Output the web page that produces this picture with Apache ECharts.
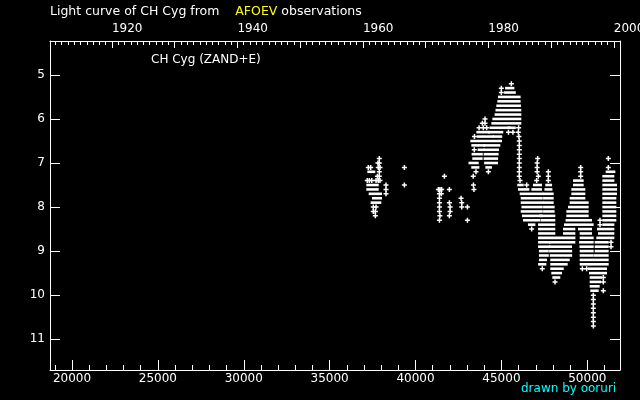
<!DOCTYPE html>
<html><head><meta charset="utf-8">
<script src="https://cdn.jsdelivr.net/npm/echarts@6/dist/echarts.min.js"></script>
<style>html,body{margin:0;padding:0;background:#000}#c{width:640px;height:400px}</style>
</head><body><div id="c"></div>
<script>
// ---- data: JD-2400000 and visual magnitude ----
// single observations [jd, mag]
const points = [
 [37890,6.9],[37810,7.0],[37890,7.0],[37250,7.1],[37390,7.1],[37830,7.1],[37930,7.1],[37890,7.2],
 [37780,7.3],[37890,7.3],[37190,7.4],[37310,7.4],[37450,7.4],[37700,7.4],[37830,7.4],[37930,7.4],
 [38280,7.5],[38280,7.6],[38280,7.7],[37540,8.0],[37700,8.0],[37540,8.1],[37660,8.1],[37660,8.2],
 [39350,7.1],[39350,7.5],
 [41680,7.3],[41330,7.6],[41420,7.6],[41520,7.6],[41970,7.6],[41390,7.7],[41500,7.7],[41390,7.8],
 [42650,7.8],[41390,7.9],[41970,7.9],[42690,7.9],[41390,8.0],[42010,8.0],[42690,8.0],[43020,8.0],
 [41390,8.1],[42010,8.1],[41420,8.2],[41970,8.2],[41390,8.3],[43020,8.3],
 [43370,7.5],[43400,7.6],[43360,7.3],[43520,7.2],[44240,7.2],[43420,6.7],[43430,6.4],
 [45410,6.3],[45670,6.3],[45984,6.3],[43700,6.2],[43946,6.2],[44141,6.2],[46000,6.2],
 [43890,6.1],[44044,6.1],[44044,6.0],[44995,5.4],[44995,5.3],[45577,5.2],
 [46020,6.4],[46040,6.5],[46040,6.6],[46040,6.7],[46040,6.8],[46040,6.9],[46040,7.0],
 [46040,7.1],[46040,7.2],[46040,7.3],[46080,7.4],
 [46470,7.5],[46760,8.5],[47110,6.9],[47080,7.0],[47080,7.1],[47080,7.2],[47150,7.3],[47050,7.4],
 [47730,7.2],[47730,7.3],[47730,7.4],[47380,9.4],[48120,9.7],
 [49613,7.1],[49613,7.2],[49613,7.3],[49710,9.4],[49962,9.4],
 [50351,10.0],[50351,10.1],[50351,10.2],[50351,10.3],[50351,10.4],[50351,10.5],[50351,10.6],[50351,10.7],
 [50933,9.6],[50933,9.7],[50933,9.9],
 [51224,6.9],[51224,7.1],[50739,8.3],[50739,8.4],[51380,8.8],[51380,8.9]
];
// dense runs of observations [jdStart, jdEnd, mag]
const runs = [
 [37310,37540,7.2],[37250,37740,7.5],[37250,37740,7.6],[37390,37930,7.7],[37580,37930,7.8],[37500,37890,7.9],
 [43360,43600,7.1],[44180,44330,7.1],[43200,43560,7.0],[44110,44680,7.0],
 [43420,43790,6.9],[44080,44690,6.9],[43380,43800,6.8],[44080,44720,6.8],
 [43730,43910,6.7],[44080,44740,6.7],[43365,43560,6.6],[43740,43946,6.6],[44060,44820,6.6],
 [43306,44917,6.5],[43680,44450,6.4],[44600,44930,6.4],[43656,44220,6.3],[44335,44990,6.3],
 [44420,45420,6.2],[45460,45720,6.2],[44530,46040,6.1],[44590,46040,6.0],[44720,46040,5.9],
 [44770,46040,5.8],[44820,46020,5.7],[44880,46000,5.6],[44920,46000,5.5],[45270,45720,5.4],[45330,45640,5.3],
 [46040,46180,7.5],[46950,47245,7.5],[46080,46510,7.6],[46860,47245,7.6],
 [46180,47340,7.7],[46240,47290,7.8],[46240,47340,7.9],[46280,47290,8.0],[46240,47290,8.1],
 [46310,47290,8.2],[46370,47150,8.3],[46660,46860,8.4],
 [47670,47830,7.5],[47620,47850,7.6],[47540,47925,7.7],[47540,47925,7.8],[47540,47925,7.9],
 [47540,47980,8.0],[47540,47980,8.1],[47300,48020,8.2],[47400,48020,8.3],[47250,48020,8.4],
 [47250,48020,8.5],[47250,48020,8.6],[47250,49190,8.7],
 [47250,47730,8.8],[47886,49186,8.8],[47250,47730,8.9],[47886,48992,8.9],
 [47300,47640,9.0],[47890,49000,9.0],[47300,47640,9.1],[47930,49000,9.1],
 [47300,47540,9.2],[47960,48860,9.2],[47250,47500,9.3],[47960,48740,9.3],
 [47960,48510,9.4],[48020,48410,9.5],[48080,48310,9.6],
 [49283,49671,7.4],[49283,49671,7.5],[49186,49768,7.6],[49186,49768,7.7],[49089,49768,7.8],
 [49089,49962,7.9],[48992,49962,8.0],[48895,49962,8.1],[48895,49962,8.2],[48850,50156,8.3],
 [48760,50250,8.4],[48701,49186,8.5],[49574,50156,8.5],[48701,49186,8.6],[49671,50156,8.6],
 [49671,50254,8.7],[49640,50253,8.8],[49660,50253,8.9],[49672,50253,9.0],[49672,50253,9.1],
 [49672,50253,9.2],[49672,50060,9.3],
 [51185,51515,7.2],[50991,51457,7.3],[50991,51457,7.4],[50991,51612,7.5],[50991,51612,7.6],
 [50991,51612,7.7],[50991,51573,7.8],[50991,51573,7.9],[50991,51573,8.0],[50991,51573,8.1],
 [50991,51573,8.2],[50991,51573,8.3],[50991,51457,8.4],[50680,51457,8.5],[50739,51457,8.6],
 [50642,51457,8.7],[50544,51127,8.8],[50544,51127,8.9],[50544,51127,9.0],[50486,51127,9.1],
 [50447,51127,9.2],[50253,51127,9.3],[50156,51030,9.4],[50215,51030,9.5],[50253,50738,9.6],
 [50253,50680,9.7],[50253,50603,9.8],[50292,50544,9.9]
];
const jdMajor = [20000,25000,30000,35000,40000,45000,50000];
const jdMinor = [19000,20000,21000,22000,23000,24000,25000,26000,27000,28000,29000,30000,31000,32000,33000,34000,35000,36000,37000,38000,39000,40000,41000,42000,43000,44000,45000,46000,47000,48000,49000,50000,51000];
const yearMajor = [1920,1930,1940,1950,1960,1970,1980,1990,2000];
const yearLabels = [1920,1940,1960,1980,2000];
const yearMinor = [];
for (let y = 1911; y <= 2000; y++) yearMinor.push(y);
const magTicks = [5,6,7,8,9,10,11];

// axis ranges
const jdMin = 18719, jdMax = 51903;
const toYear = jd => 2000 + (jd - 51544.5) / 365.25;
const magMin = 4.23, magMax = 11.70;

const font = 'DejaVu Sans';
const W = '#ffffff';
const plain = v => String(Math.round(v));
function xAx(opts){
  return Object.assign({type:'value', min:jdMin, max:jdMax, splitLine:{show:false},
    axisLine:{show:false}, axisTick:{show:false}, axisLabel:{show:false}}, opts);
}
const chart = echarts.init(document.getElementById('c'), null, {renderer:'canvas'});
chart.setOption({
  backgroundColor:'#000',
  animation:false,
  title:{left:50, top:5, padding:0, text:'{w|Light curve of CH Cyg from    }{y|AFOEV}{w| observations}',
    textStyle:{fontWeight:'normal', rich:{w:{color:W,fontSize:12.5,fontFamily:font,fontWeight:'normal'},y:{color:'#ffff00',fontSize:12.5,fontFamily:font,fontWeight:'normal'}}}},
  graphic:[
    {type:'text', left:151, top:54, style:{text:'CH Cyg (ZAND+E)', fill:W, font:'12px "DejaVu Sans"'}},
    {type:'text', left:521, top:383, style:{text:'drawn by ooruri', fill:'#00ffff', font:'12px "DejaVu Sans"'}}
  ],
  grid:{left:50, right:20, top:41, bottom:30, containLabel:false, outerBoundsMode:'none'},
  xAxis:[
    xAx({position:'bottom', axisLine:{show:true,lineStyle:{color:W,width:1}},
      axisTick:{show:true,inside:true,length:10,lineStyle:{color:W},customValues:jdMajor},
      axisLabel:{show:true,color:W,fontSize:12,fontFamily:font,margin:3,customValues:jdMajor,formatter:plain}}),
    xAx({position:'bottom', axisTick:{show:true,inside:true,length:5,lineStyle:{color:W},customValues:jdMinor}}),
    xAx({position:'top', min:toYear(jdMin), max:toYear(jdMax), axisLine:{show:true,lineStyle:{color:W,width:1}},
      axisTick:{show:true,inside:true,length:7,lineStyle:{color:W},customValues:yearMajor},
      axisLabel:{show:true,color:W,fontSize:12,fontFamily:font,margin:6,align:'left',customValues:yearLabels,formatter:plain,hideOverlap:false}}),
    xAx({position:'top', min:toYear(jdMin), max:toYear(jdMax),
      axisTick:{show:true,inside:true,length:4,lineStyle:{color:W},customValues:yearMinor}})
  ],
  yAxis:[
    {type:'value', inverse:true, min:magMin, max:magMax, position:'left', splitLine:{show:false},
      axisLine:{show:true,lineStyle:{color:W,width:1}},
      axisTick:{show:true,inside:true,length:10,lineStyle:{color:W},customValues:magTicks},
      axisLabel:{show:true,color:W,fontSize:12,fontFamily:font,margin:5,customValues:magTicks,formatter:plain}},
    {type:'value', inverse:true, min:magMin, max:magMax, position:'right', splitLine:{show:false},
      axisLine:{show:true,lineStyle:{color:W,width:1}},
      axisTick:{show:true,inside:true,length:10,lineStyle:{color:W},customValues:magTicks},
      axisLabel:{show:false}}
  ],
  series:[
    {type:'custom', xAxisIndex:0, yAxisIndex:0, data:runs, encode:{x:[0,1], y:2}, clip:true, silent:true,
      renderItem:function(params, api){
        const s = api.coord([api.value(0), api.value(2)]);
        const e = api.coord([api.value(1), api.value(2)]);
        return {type:'rect', shape:{x:s[0]-2, y:s[1]-1.3, width:e[0]-s[0]+4, height:2.6}, style:{fill:W}};
      }},
    {type:'scatter', xAxisIndex:0, yAxisIndex:0, data:points, silent:true,
      symbol:'path://M1.75,0H3.25V1.75H5V3.25H3.25V5H1.75V3.25H0V1.75H1.75Z', symbolSize:5,
      itemStyle:{color:W, opacity:1}}
  ]
});
</script></body></html>
